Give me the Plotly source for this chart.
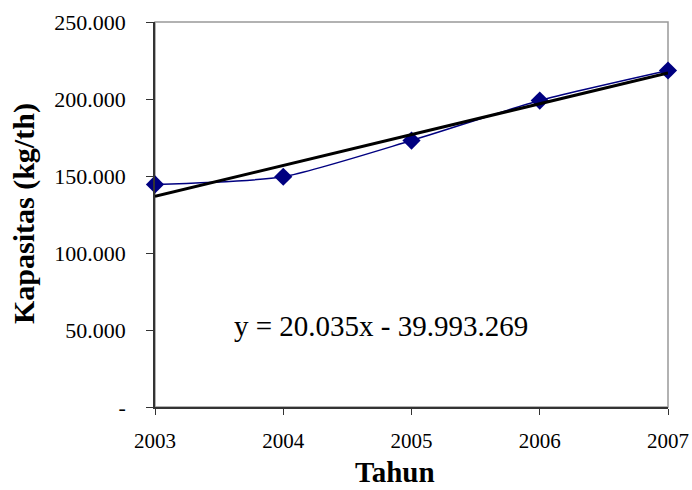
import plotly.graph_objects as go

years = [2003, 2004, 2005, 2006, 2007]
kapasitas = [144500, 149500, 173000, 199000, 218500]
slope = 20035
intercept = -39993269
y_tickvals = [0, 50000, 100000, 150000, 200000, 250000]
y_ticktext = ["-", "50.000", "100.000", "150.000", "200.000", "250.000"]
equation = "y = 20.035x - 39.993.269"
x_title = "Tahun"
y_title = "Kapasitas (kg/th)"

trend = [slope * x + intercept for x in years]

fig = go.Figure()
fig.add_trace(go.Scatter(
    x=years, y=kapasitas, mode="lines+markers",
    line=dict(color="#000080", width=1.5, shape="spline", smoothing=0.6),
    marker=dict(symbol="diamond", size=14, color="#000080"),
    showlegend=False, cliponaxis=False))
fig.add_trace(go.Scatter(
    x=[years[0], years[-1]], y=[trend[0], trend[-1]], mode="lines",
    line=dict(color="black", width=3), showlegend=False, cliponaxis=False))

font = "Liberation Serif, Times New Roman, serif"
fig.update_layout(
    width=692, height=490,
    margin=dict(l=155, r=24, t=22, b=83),
    paper_bgcolor="white", plot_bgcolor="white",
    font=dict(family=font, color="black"),
    xaxis=dict(range=[2003, 2007], tickvals=years, ticktext=[str(y) for y in years],
               showgrid=False, zeroline=False, showline=True, linecolor="#333333",
               linewidth=1.5, ticks="outside", ticklen=6, tickcolor="#333333",
               tickfont=dict(size=21, family=font), ticklabelstandoff=8,
               automargin=False),
    yaxis=dict(range=[0, 250000], tickvals=y_tickvals, ticktext=y_ticktext,
               showgrid=False, zeroline=False, showline=True, linecolor="#333333",
               linewidth=1.5, ticks="outside", ticklen=7, tickcolor="#333333",
               tickfont=dict(size=22, family=font), ticklabelstandoff=16,
               automargin=False),
    shapes=[dict(type="rect", xref="paper", yref="paper", x0=0, x1=1, y0=0, y1=1,
                 line=dict(color="#999999", width=1.5), layer="below")],
    annotations=[
        dict(text=equation, x=381, y=326, showarrow=False, font=dict(size=29, family=font)),
        dict(text="<b>" + x_title + "</b>", x=395, y=472, showarrow=False,
             font=dict(size=29, family=font)),
        dict(text="<b>" + y_title + "</b>", x=24, y=214, showarrow=False, textangle=-90,
             font=dict(size=30, family=font)),
    ],
)

# convert pixel positions of annotations to paper coordinates
W, H = 692, 490
l, r, t, b = 155, 24, 22, 83
pw, ph = W - l - r, H - t - b
new_ann = []
for a in fig.layout.annotations:
    a = a.to_plotly_json()
    a["xref"] = "paper"
    a["yref"] = "paper"
    a["x"] = (a["x"] - l) / pw
    a["y"] = (H - b - a["y"]) / ph
    a["xanchor"] = "center"
    a["yanchor"] = "middle"
    new_ann.append(a)
fig.layout.annotations = new_ann

fig.write_html("out.html", config={"displayModeBar": False},
               post_script="document.body.style.margin='0';document.body.style.overflow='hidden';")
